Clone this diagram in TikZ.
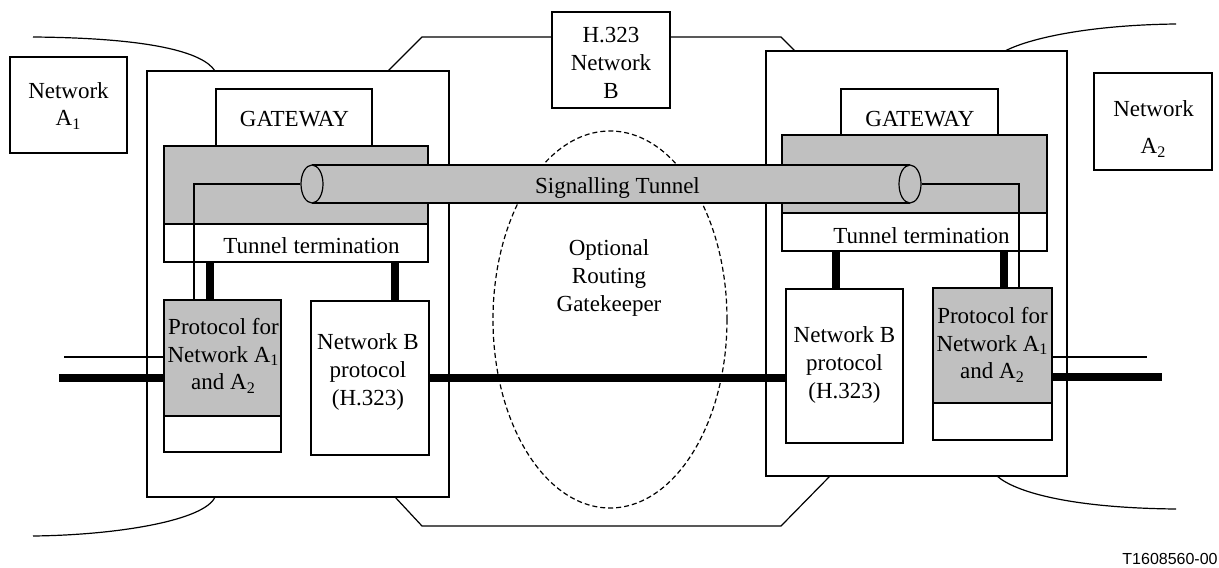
\documentclass[tikz,border=0pt]{standalone}
\usepackage{fontspec}
\setmainfont{Liberation Serif}
\newfontfamily\labelfont{Liberation Sans}
\usetikzlibrary{shapes.geometric}
\definecolor{tgray}{RGB}{192,192,192}
\newcommand\mkbox[6]{\node[#6, minimum width={(#4-#2)*0.5pt}, minimum height={(#5-#3)*0.5pt}] (#1) at ({(#2+#4)/2},{(#3+#5)/2}) {};}
\begin{document}
\begin{tikzpicture}[x=0.5pt,y=-0.5pt,
  ln/.style={line width=0.6pt},
  box/.style={draw, line width=0.6pt, fill=white, inner sep=0pt, outer sep=0pt},
  gbox/.style={box, fill=tgray},
  thk/.style={line width=4.3pt},
  txt/.style={align=center, font=\fontsize{11.5}{13.8}\selectfont, inner sep=0pt},
  cyl/.style={draw, ellipse, line width=0.6pt, fill=tgray, minimum width=11pt, minimum height=19pt, inner sep=0pt}]
\useasboundingbox (0,0) rectangle (1219,567);
% Network B outline and network curves
\draw[ln] (388,71) -- (422,37) -- (552,37);
\draw[ln] (670,37) -- (781,37) -- (795,51);
\draw[ln] (395,497) -- (422,526) -- (781,526) -- (830,476);
\draw[ln] (33,37) .. controls (150,38) and (203,52) .. (215,71);
\draw[ln] (215,497) .. controls (205,520) and (120,535) .. (33,536);
\draw[ln] (1005,51) .. controls (1030,38) and (1090,25) .. (1176,24);
\draw[ln] (997,476) .. controls (1015,492) and (1070,508) .. (1176,509);
% outer gateway boxes
\mkbox{L}{147}{71}{449}{497}{box}
\mkbox{R}{766}{51}{1067}{476}{box}
% gatekeeper
\node[draw, ellipse, dash pattern=on 2.5pt off 1.5pt, line width=0.6pt, minimum width=117pt, minimum height=188.5pt, inner sep=0pt] (gk) at (610,319.5) {};
\node[txt] (gkt) at (609,278) {Optional\\Routing\\Gatekeeper};
% network boxes
\mkbox{na1}{10}{57}{127}{153}{box}
\node[txt] (na1t) at (68.5,106) {Network\\A\textsubscript{1}};
\mkbox{na2}{1094}{73}{1212}{170}{box}
\node[txt] (na2t) at (1153.5,129) {Network\\[5pt]A\textsubscript{2}};
\mkbox{h}{552}{12}{670}{108}{box}
\node[txt] (ht) at (611,63) {H.323\\Network\\B};
% left gateway
\mkbox{gw1}{216}{89}{372}{146}{box}
\node[txt] (gw1t) at (294.5,119.5) {GATEWAY};
\mkbox{g1}{164}{146}{428}{224}{gbox}
\mkbox{tt1}{164}{224}{428}{262}{box}
\node[txt] (tt1t) at (311.5,246) {Tunnel termination};
\mkbox{p1}{164}{300}{281}{416}{gbox}
\mkbox{p1b}{164}{416}{281}{452}{box}
\node[txt] (p1t) at (223.5,356) {Protocol for\\Network A\textsubscript{1}\\and A\textsubscript{2}};
\mkbox{nb1}{311}{301}{429}{455}{box}
\node[txt] (nb1t) at (368,372) {Network B\\protocol\\(H.323)};
% right gateway
\mkbox{gw2}{841}{89}{998}{135}{box}
\node[txt] (gw2t) at (920,119.5) {GATEWAY};
\mkbox{g2}{782}{135}{1047}{213}{gbox}
\mkbox{tt2}{782}{213}{1047}{251}{box}
\node[txt] (tt2t) at (921.5,235.5) {Tunnel termination};
\mkbox{p2}{933}{288}{1052}{403}{gbox}
\mkbox{p2b}{933}{403}{1052}{440}{box}
\node[txt] (p2t) at (992.5,345) {Protocol for\\Network A\textsubscript{1}\\and A\textsubscript{2}};
\mkbox{nb2}{786}{289}{903}{443}{box}
\node[txt] (nb2t) at (844.5,365) {Network B\\protocol\\(H.323)};
% helper coordinates
\coordinate (c3) at (210,0);
\coordinate (c4) at (395,0);
\coordinate (c6) at (836,0);
\coordinate (c7) at (1004,0);
\coordinate (c5) at (0,378);
\coordinate (l1) at (59,378);
\coordinate (lt) at (64,357);
\coordinate (r1) at (1162,377);
\coordinate (rt) at (1147,357);
\coordinate (c1) at (194,0);
\coordinate (c2) at (1019,0);
% thick connectors
\draw[thk] (tt1.south -| c3) -- (p1.north -| c3);
\draw[thk] (tt1.south -| c4) -- (nb1.north -| c4);
\draw[thk] (tt2.south -| c6) -- (nb2.north -| c6);
\draw[thk] (tt2.south -| c7) -- (p2.north -| c7);
\draw[thk] (nb1.east |- c5) -- (nb2.west |- c5);
\draw[thk] (l1) -- (p1.west |- l1);
\draw[thk] (p2.east |- r1) -- (r1);
\draw[ln] (lt) -- (p1.west |- lt);
\draw[ln] (p2.east |- rt) -- (rt);
% signalling tunnel
\fill[tgray] (312,165) rectangle (910,203);
\draw[ln] (312,165) -- (910,165);
\draw[ln] (312,203) -- (910,203);
\node[cyl] (e1) at (312,184) {};
\node[cyl] (e2) at (910,184) {};
\node[txt] (tun) at (617.5,188) {Signalling Tunnel};
\draw[ln] (e1.west) -- (e1.west -| c1) -- (p1.north -| c1);
\draw[ln] (e2.east) -- (e2.east -| c2) -- (p2.north -| c2);
% figure label
\node[anchor=east, inner sep=0pt, font=\labelfont\fontsize{8}{9.6}\selectfont] (fig) at (1218,558.5) {T1608560-00};
\end{tikzpicture}
\end{document}
